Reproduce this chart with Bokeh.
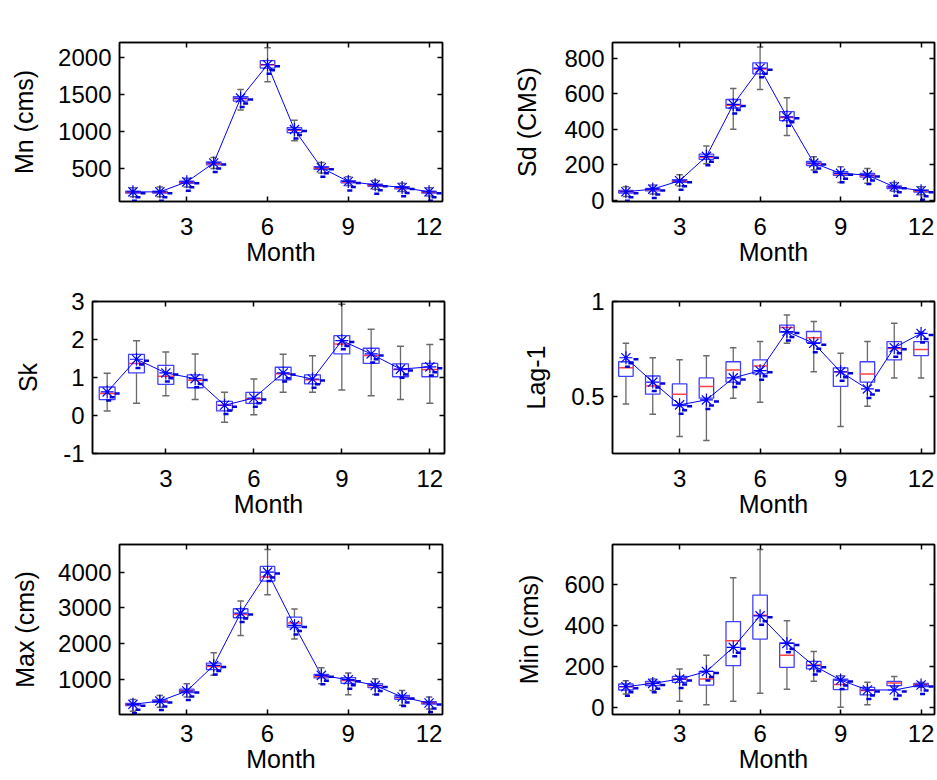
import numpy as np
from bokeh.plotting import figure
from bokeh.layouts import column, row
from bokeh.models import LinearAxis, FixedTicker, Range1d
from bokeh.embed import file_html
from bokeh.resources import INLINE

months = np.arange(1, 13)
x_ticks = [3, 6, 9, 12]

# Monthly mean flow (cms): observed value and simulated box statistics
mn_obs = [185, 185, 320, 575, 1450, 1900, 1025, 510, 325, 280, 245, 185]
mn_lo = [120, 120, 250, 500, 1290, 1670, 875, 440, 270, 220, 190, 130]
mn_q1 = [170, 170, 300, 550, 1410, 1855, 985, 490, 305, 260, 225, 170]
mn_med = [180, 180, 310, 565, 1440, 1900, 1015, 505, 318, 272, 238, 180]
mn_q3 = [195, 195, 330, 590, 1470, 1955, 1050, 525, 335, 290, 255, 195]
mn_hi = [240, 250, 370, 650, 1565, 2130, 1150, 580, 390, 340, 300, 240]

# Standard deviation (CMS)
sd_obs = [47, 62, 109, 247, 540, 745, 470, 209, 151, 141, 75, 53]
sd_lo = [20, 35, 80, 205, 400, 625, 365, 170, 100, 95, 50, 30]
sd_q1 = [40, 52, 100, 230, 520, 713, 449, 195, 140, 130, 65, 45]
sd_med = [48, 58, 107, 242, 535, 740, 466, 205, 148, 138, 72, 51]
sd_q3 = [55, 66, 115, 260, 568, 775, 500, 218, 160, 150, 80, 58]
sd_hi = [75, 85, 143, 305, 630, 865, 578, 245, 188, 178, 100, 75]

# Skewness
sk_obs = [0.62, 1.48, 1.12, 0.97, 0.27, 0.46, 1.12, 0.96, 1.97, 1.62, 1.22, 1.28]
sk_lo = [0.12, 0.32, 0.52, 0.42, -0.18, 0.02, 0.61, 0.61, 0.67, 0.52, 0.42, 0.32]
sk_q1 = [0.42, 1.12, 0.82, 0.73, 0.12, 0.32, 0.94, 0.83, 1.62, 1.37, 1.02, 1.02]
sk_med = [0.58, 1.37, 1.03, 0.93, 0.27, 0.44, 1.10, 0.94, 1.88, 1.58, 1.21, 1.21]
sk_q3 = [0.75, 1.61, 1.32, 1.07, 0.37, 0.61, 1.27, 1.07, 2.10, 1.77, 1.36, 1.37]
sk_hi = [1.11, 1.97, 1.67, 1.62, 0.61, 0.96, 1.61, 1.57, 2.93, 2.27, 1.82, 1.87]

# Lag-1 autocorrelation
lg_obs = [0.704, 0.576, 0.456, 0.482, 0.598, 0.636, 0.842, 0.780, 0.630, 0.540, 0.757, 0.832]
lg_lo = [0.460, 0.406, 0.290, 0.268, 0.491, 0.470, 0.780, 0.630, 0.342, 0.449, 0.598, 0.598]
lg_q1 = [0.606, 0.512, 0.452, 0.491, 0.576, 0.619, 0.837, 0.784, 0.553, 0.576, 0.693, 0.715]
lg_med = [0.651, 0.555, 0.512, 0.553, 0.640, 0.661, 0.863, 0.809, 0.630, 0.619, 0.752, 0.748]
lg_q3 = [0.683, 0.608, 0.566, 0.598, 0.683, 0.693, 0.876, 0.842, 0.651, 0.683, 0.789, 0.789]
lg_hi = [0.780, 0.704, 0.693, 0.715, 0.757, 0.789, 0.929, 0.895, 0.727, 0.789, 0.885, 0.840]

# Monthly maximum flow (cms)
mx_obs = [313, 405, 684, 1399, 2858, 4000, 2514, 1121, 1000, 842, 517, 350]
mx_lo = [120, 230, 517, 1121, 2235, 3368, 2133, 889, 582, 590, 285, 180]
mx_q1 = [280, 370, 640, 1279, 2727, 3750, 2467, 1050, 900, 780, 450, 320]
mx_med = [310, 400, 690, 1371, 2820, 3861, 2579, 1090, 980, 830, 500, 350]
mx_q3 = [340, 440, 735, 1464, 2978, 4158, 2746, 1150, 1060, 890, 560, 385]
mx_hi = [450, 560, 890, 1752, 3192, 4632, 2969, 1334, 1186, 1028, 700, 520]

# Monthly minimum flow (cms)
mi_obs = [103, 119, 140, 177, 294, 447, 313, 205, 135, 87, 87, 111]
mi_lo = [68, 84, 32, 15, 32, 71, 90, 129, 3, 15, 103, 100]
mi_q1 = [87, 108, 124, 111, 205, 334, 197, 189, 89, 63, 108, 103]
mi_med = [103, 119, 140, 140, 326, 450, 256, 208, 113, 84, 121, 113]
mi_q3 = [116, 129, 153, 177, 419, 547, 315, 226, 140, 100, 129, 119]
mi_hi = [132, 140, 189, 256, 632, 769, 423, 274, 156, 124, 152, 124]

FONT = "Liberation Sans"
TICK_SIZE = "24px"
LABEL_SIZE = "25px"
BOX_HALF = 0.27
CAP_HALF = 0.12
X_LIM = (0.5, 12.5)


def make_panel(ylabel, obs, lo, q1, med, q3, hi, ylim, yticks, w, h,
               borders, label_standoff, x_standoff, overrides=None):
    bl, br, bt, bb = borders
    p = figure(width=w, height=h, output_backend="svg", toolbar_location=None,
               x_range=Range1d(*X_LIM), y_range=Range1d(*ylim),
               x_axis_location=None, y_axis_location=None,
               min_border_left=bl, min_border_right=br,
               min_border_top=bt, min_border_bottom=bb)
    p.xgrid.visible = False
    p.ygrid.visible = False
    p.outline_line_color = "black"
    p.outline_line_width = 1.5
    p.background_fill_color = "white"
    p.border_fill_color = "white"

    for place in ("left", "right", "below", "above"):
        vertical = place in ("left", "right")
        ax = LinearAxis(ticker=FixedTicker(ticks=yticks if vertical else x_ticks))
        ax.major_tick_in = 5
        ax.major_tick_out = 0
        ax.minor_tick_line_color = None
        ax.axis_line_width = 1.5
        ax.major_tick_line_width = 1.5
        ax.major_label_text_font = FONT
        ax.major_label_text_font_size = TICK_SIZE
        ax.major_label_text_color = "black"
        ax.axis_label_text_font = FONT
        ax.axis_label_text_font_size = LABEL_SIZE
        ax.axis_label_text_font_style = "normal"
        ax.axis_label_text_color = "black"
        if place == "left":
            ax.axis_label = ylabel
            ax.major_label_standoff = 8
            ax.axis_label_standoff = label_standoff
            if overrides:
                ax.major_label_overrides = overrides
        elif place == "below":
            ax.axis_label = "Month"
            ax.major_label_standoff = x_standoff
            ax.axis_label_standoff = 0
        else:
            # tick marks only on the opposite frame edges
            ax.major_label_text_color = None
            ax.major_label_standoff = 0
        p.add_layout(ax, place)

    x = months.astype(float)
    lo = np.asarray(lo, float)
    hi = np.asarray(hi, float)
    q1 = np.asarray(q1, float)
    q3 = np.asarray(q3, float)
    med = np.asarray(med, float)
    obs = np.asarray(obs, float)

    # whiskers and caps
    wc = "#6a6a6a"
    p.segment(x, lo, x, q1, line_color=wc, line_width=1.3)
    p.segment(x, q3, x, hi, line_color=wc, line_width=1.3)
    p.segment(x - CAP_HALF, lo, x + CAP_HALF, lo, line_color=wc, line_width=1.5)
    p.segment(x - CAP_HALF, hi, x + CAP_HALF, hi, line_color=wc, line_width=1.5)

    # boxes and medians
    p.quad(left=x - BOX_HALF, right=x + BOX_HALF, bottom=q1, top=q3,
           fill_color=None, line_color="#4040ff", line_width=1.3)
    p.segment(x - BOX_HALF, med, x + BOX_HALF, med,
              line_color="#ff4040", line_width=1.5)

    # observed statistic
    p.line(x, obs, line_color="#0000ff", line_width=1)
    p.scatter(x, obs, marker="asterisk", size=13, line_color="#0000ff", line_width=1.2)

    # small dash symbols beside each observed point
    fw = w - bl - br
    fh = h - bt - bb
    px_x = (X_LIM[1] - X_LIM[0]) / fw
    px_y = (ylim[1] - ylim[0]) / fh
    for ox, oy in ((10, 1.5), (5, 5.5), (1.5, 9)):
        p.rect(x + ox * px_x, obs - oy * px_y, width=5, height=2.5,
               width_units="screen", height_units="screen",
               fill_color="#0000dd", line_color=None)
    return p


LW, RW = 468, 469
H1, H2, H3 = 274, 252, 254

p1 = make_panel("Mn (cms)", mn_obs, mn_lo, mn_q1, mn_med, mn_q3, mn_hi,
                (55, 2200), [0, 500, 1000, 1500, 2000], LW, H1,
                (119, 26, 41, 73), 17, 16)
p2 = make_panel("Sd (CMS)", sd_obs, sd_lo, sd_q1, sd_med, sd_q3, sd_hi,
                (-8, 890), [0, 200, 400, 600, 800], RW, H1,
                (144, 3, 42, 73), 20, 16)
p3 = make_panel("Sk", sk_obs, sk_lo, sk_q1, sk_med, sk_q3, sk_hi,
                (-1, 3), [-1, 0, 1, 2, 3], LW, H2,
                (92, 24, 21, 73), 18, 16, overrides={-1: "-1"})
p4 = make_panel("Lag-1", lg_obs, lg_lo, lg_q1, lg_med, lg_q3, lg_hi,
                (0.2, 1.0), [0.5, 1.0], RW, H2,
                (144, 3, 27, 73), 18, 16, overrides={1: "1", 0.5: "0.5"})
p5 = make_panel("Max (cms)", mx_obs, mx_lo, mx_q1, mx_med, mx_q3, mx_hi,
                (30, 4770), [1000, 2000, 3000, 4000], LW, H3,
                (119, 26, 18, 66), 16, 10)
p6 = make_panel("Min (cms)", mi_obs, mi_lo, mi_q1, mi_med, mi_q3, mi_hi,
                (-32, 793), [0, 200, 400, 600], RW, H3,
                (144, 3, 17, 66), 18, 10)

layout = column(row(p1, p2), row(p3, p4), row(p5, p6))

with open("out.html", "w") as f:
    f.write(file_html(layout, INLINE))
